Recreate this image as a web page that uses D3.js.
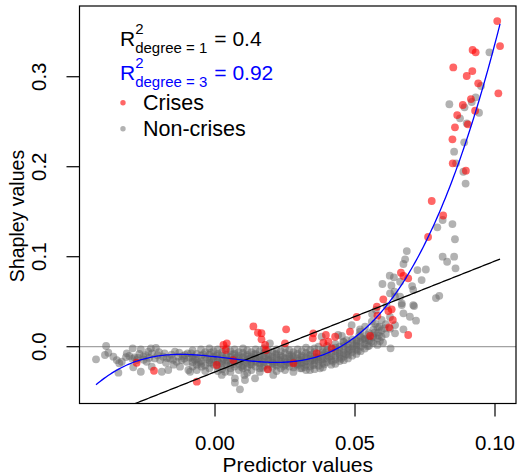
<!DOCTYPE html>
<html><head><meta charset="utf-8">
<script src="https://cdn.jsdelivr.net/npm/d3@7"></script>
<style>
body{margin:0;background:#fff}
svg{display:block}
text{font-family:"Liberation Sans",Arial,Helvetica,sans-serif}
</style>
</head><body>
<svg id="chart" width="518" height="474"></svg>
<script>
// Observations: [predictor value, Shapley value]
const nonCrises = [
 [-0.0425,-0.014],[-0.0389,0.0008],[-0.0393,-0.0092],[-0.0381,-0.0067],[-0.0363,-0.0111],[-0.0351,-0.0148],[-0.0342,-0.0184],[-0.0345,-0.0289],
 [-0.0333,-0.0167],[-0.0315,-0.0073],[-0.0318,-0.0115],[-0.0306,-0.0103],[-0.0295,-0.0135],[-0.0294,-0.0018],[-0.0292,-0.0229],[-0.0288,-0.0118],
 [-0.028,-0.0148],[-0.0275,-0.0125],[-0.027,-0.0081],[-0.0265,-0.0029],[-0.0265,-0.0278],[-0.0256,-0.0111],[-0.0255,-0.0145],[-0.0248,-0.0095],
 [-0.0244,-0.0167],[-0.0238,-0.0056],[-0.0235,-0.0125],[-0.0229,-0.0018],[-0.0226,-0.0222],[-0.0225,-0.0075],[-0.0215,-0.013],[-0.0211,-0.0012],
 [-0.0205,-0.0095],[-0.02,-0.006],[-0.0196,-0.0148],[-0.019,-0.0278],[-0.0185,-0.0111],[-0.018,-0.0075],[-0.0175,-0.0178],[-0.0172,-0.0125],
 [-0.0167,-0.0259],[-0.0161,-0.013],[-0.0155,-0.0088],[-0.015,-0.0145],[-0.0148,-0.02],[-0.0143,-0.0056],[-0.0137,-0.0167],[-0.0131,-0.0111],
 [-0.0128,-0.0065],[-0.0125,-0.0222],[-0.0119,-0.0148],[-0.0115,-0.0105],[-0.011,-0.013],[-0.0107,-0.0092],[-0.0101,-0.0167],[-0.0098,-0.0075],
 [-0.0095,-0.0259],[-0.0092,-0.012],
 [-0.008,-0.004],[-0.008,-0.011],[-0.008,-0.017],[-0.008,-0.022],
 [-0.0065,-0.008],[-0.0065,-0.014],[-0.0065,-0.02],[-0.0065,-0.026],
 [-0.005,-0.003],[-0.005,-0.01],[-0.005,-0.016],[-0.005,-0.019],
 [-0.0035,-0.006],[-0.0035,-0.012],[-0.0035,-0.021],[-0.0035,-0.027],
 [-0.002,-0.002],[-0.002,-0.009],[-0.002,-0.015],[-0.002,-0.018],[-0.002,-0.024],
 [-0.0005,-0.005],[-0.0005,-0.011],[-0.0005,-0.014],[-0.0005,-0.02],
 [0.001,-0.003],[0.001,-0.008],[0.001,-0.013],[0.001,-0.017],[0.001,-0.022],[0.001,-0.027],
 [0.0025,-0.006],[0.0025,-0.01],[0.0025,-0.016],[0.0025,-0.019],[0.0025,-0.025],
 [0.004,-0.002],[0.004,-0.009],[0.004,-0.012],[0.004,-0.018],[0.004,-0.021],
 [0.0055,-0.005],[0.0055,-0.011],[0.0055,-0.015],[0.0055,-0.02],[0.0055,-0.024],[0.0055,-0.028],
 [0.007,-0.003],[0.007,-0.008],[0.007,-0.013],[0.007,-0.017],[0.007,-0.022],
 [0.0085,-0.006],[0.0085,-0.01],[0.0085,-0.014],[0.0085,-0.019],[0.0085,-0.026],
 [0.01,-0.002],[0.01,-0.007],[0.01,-0.012],[0.01,-0.016],[0.01,-0.021],[0.01,-0.024],
 [0.0115,-0.004],[0.0115,-0.009],[0.0115,-0.015],[0.0115,-0.018],[0.0115,-0.023],[0.0115,-0.029],
 [0.013,-0.006],[0.013,-0.011],[0.013,-0.013],[0.013,-0.017],[0.013,-0.02],[0.013,-0.026],
 [0.0145,-0.003],[0.0145,-0.008],[0.0145,-0.012],[0.0145,-0.016],[0.0145,-0.022],
 [0.016,-0.005],[0.016,-0.01],[0.016,-0.014],[0.016,-0.019],[0.016,-0.024],[0.016,-0.028],
 [0.0175,-0.002],[0.0175,-0.007],[0.0175,-0.012],[0.0175,-0.017],[0.0175,-0.021],
 [0.019,-0.004],[0.019,-0.009],[0.019,-0.013],[0.019,-0.015],[0.019,-0.02],[0.019,-0.025],
 [0.0205,-0.006],[0.0205,-0.011],[0.0205,-0.016],[0.0205,-0.018],[0.0205,-0.023],
 [0.022,-0.003],[0.022,-0.008],[0.022,-0.012],[0.022,-0.017],[0.022,-0.021],[0.022,-0.027],
 [0.0235,-0.005],[0.0235,-0.01],[0.0235,-0.014],[0.0235,-0.019],[0.0235,-0.024],
 [0.025,-0.002],[0.025,-0.007],[0.025,-0.013],[0.025,-0.016],[0.025,-0.02],[0.025,-0.026],
 [0.0265,-0.004],[0.0265,-0.009],[0.0265,-0.012],[0.0265,-0.018],[0.0265,-0.022],
 [0.028,-0.006],[0.028,-0.011],[0.028,-0.015],[0.028,-0.017],[0.028,-0.023],[0.028,-0.028],
 [0.0295,-0.003],[0.0295,-0.008],[0.0295,-0.013],[0.0295,-0.019],[0.0295,-0.021],
 [0.031,-0.005],[0.031,-0.01],[0.031,-0.014],[0.031,-0.018],[0.031,-0.024],
 [0.0325,-0.001],[0.0325,-0.007],[0.0325,-0.012],[0.0325,-0.016],[0.0325,-0.02],[0.0325,-0.026],
 [0.034,-0.004],[0.034,-0.009],[0.034,-0.013],[0.034,-0.017],[0.034,-0.022],
 [0.0355,-0.002],[0.0355,-0.006],[0.0355,-0.011],[0.0355,-0.015],[0.0355,-0.019],[0.0355,-0.025],
 [0.037,0.0],[0.037,-0.008],[0.037,-0.012],[0.037,-0.016],[0.037,-0.021],
 [0.0385,-0.003],[0.0385,-0.006],[0.0385,-0.01],[0.0385,-0.014],[0.0385,-0.018],[0.0385,-0.023],
 [0.04,0.001],[0.04,-0.004],[0.04,-0.009],[0.04,-0.013],[0.04,-0.017],
 [0.0415,-0.002],[0.0415,-0.007],[0.0415,-0.011],[0.0415,-0.015],[0.0415,-0.02],
 [0.043,0.003],[0.043,-0.001],[0.043,-0.005],[0.043,-0.01],[0.043,-0.014],[0.043,-0.019],
 [0.0445,0.0],[0.0445,-0.004],[0.0445,-0.008],[0.0445,-0.012],[0.0445,-0.016],
 [0.046,0.005],[0.046,0.001],[0.046,-0.003],[0.046,-0.007],[0.046,-0.011],[0.046,-0.015],
 [0.0475,0.003],[0.0475,-0.001],[0.0475,-0.005],[0.0475,-0.009],[0.0475,-0.013],
 [0.049,0.008],[0.049,0.003],[0.049,-0.002],[0.049,-0.006],[0.049,-0.01],
 [0.0505,0.006],[0.0505,0.001],[0.0505,-0.003],[0.0505,-0.008],
 [0.052,0.011],[0.052,0.005],[0.052,0.0],[0.052,-0.005],
 [0.0535,0.009],[0.0535,0.003],[0.0535,-0.002],
 [0.055,0.015],[0.055,0.007],[0.055,0.001],
 [0.0565,0.019],[0.0565,0.012],[0.0565,0.004],
 [0.058,0.022],[0.058,0.009],[0.058,0.002],
 [0.0595,0.018],[0.0595,0.011],[0.061,0.025],[0.061,0.014],[0.0625,0.02],[0.0625,0.033],
 [0.0005,-0.0105],[0.0015,-0.0185],[0.003,-0.0135],[0.0045,-0.0155],[0.006,-0.0085],[0.0065,-0.0195],[0.0078,-0.0115],
 [0.009,-0.0165],[0.0095,-0.0225],[0.0108,-0.0105],[0.012,-0.0135],[0.0125,-0.0195],[0.0138,-0.0085],[0.015,-0.0175],
 [0.0155,-0.0125],[0.0168,-0.0155],[0.017,-0.0235],[0.0182,-0.0105],[0.0198,-0.0145],[0.0212,-0.0195],[0.0215,-0.0085],
 [0.0228,-0.0155],[0.0242,-0.0115],[0.0245,-0.0215],[0.0258,-0.0175],[0.027,-0.0135],[0.0275,-0.0095],[0.0288,-0.0195],
 [0.03,-0.0155],[0.0305,-0.0115],[0.0318,-0.0175],[0.032,-0.0225],[0.0332,-0.0095],[0.0348,-0.0145],[0.0352,-0.0205],
 [0.0362,-0.0125],[0.0378,-0.0145],[0.039,-0.0195],[0.0395,-0.0065],[0.0408,-0.0115],[0.042,-0.0165],[0.0438,-0.0065],
 [0.045,-0.0135],[0.0468,-0.0085],[0.048,-0.0035],[0.0495,0.0005],[0.051,-0.0045],[0.0515,0.0125],[0.0528,0.0085],
 [0.0542,0.0135],[0.0545,0.0005],[0.0558,0.0055],[0.057,0.0155],[0.0572,0.0255],[0.0585,0.0125],[0.06,0.0045],
 [0.0605,0.0205],[-0.0072,-0.0145],[-0.0058,-0.0175],[-0.0042,-0.0085],[-0.0028,-0.0135],[-0.0012,-0.0175],
 [-0.0015,-0.0065],[-0.0085,-0.0075],[-0.0078,-0.0135],
 [0.0071,-0.0351],[0.0071,-0.04],[0.0089,-0.0473],[0.0107,-0.037],[0.0105,-0.0314],[0.0143,-0.0351],
 [0.0024,-0.0314],[-0.0089,-0.0278],[-0.0048,-0.0222],[0.0036,-0.0278],[0.0196,0.0038],[0.0208,-0.0314],
 [0.0304,-0.024],[0.0375,-0.024],[0.0339,-0.0259],
 [0.0381,0.0111],[0.044,0.013],[0.0458,0.0056],[0.0488,0.0241],[0.0518,0.0167],[0.0536,0.0222],[0.056,0.0278],
 [0.0548,0.0093],[0.0506,0.0074],[0.0518,0.0193],[0.0453,0.0119],[0.047,0.0074],[0.0536,0.0074],[0.0506,0.0038],
 [0.0627,-0.0018],[0.0565,0.0104],[0.0589,0.0063],[0.0583,0.0156],[0.0587,0.0222],[0.0595,0.0297],[0.0643,0.0241],
 [0.0673,0.0193],[0.0643,0.0149],[0.0718,0.0289],[0.0696,0.0333],[0.0673,0.0371],[0.0561,0.0363],[0.0575,0.0408],
 [0.0613,0.0452],[0.0711,0.0452],[0.0667,0.0463],[0.0667,0.0482],[0.0708,0.0463],[0.0643,0.0556],[0.0661,0.0556],
 [0.0641,0.0611],[0.0625,0.0593],[0.063,0.068],[0.0598,0.0697],[0.0661,0.0722],[0.0639,0.0771],[0.0624,0.0789],
 [0.0708,0.063],[0.0704,0.0674],[0.0789,0.0541],[0.0801,0.0566],[0.0738,0.0741],[0.0723,0.0852],[0.0753,0.0858],
 [0.0673,0.0919],[0.0679,0.0971],[0.0685,0.1063],[0.0813,0.1],[0.0829,0.0944],[0.0854,0.1],[0.0859,0.0871],
 [0.0857,0.1194],[0.0794,0.1327],[0.0813,0.1408],[0.0848,0.1363],[0.0895,0.1813],[0.0887,0.1944],[0.0861,0.2038],
 [0.0854,0.2167],[0.089,0.2271],[0.0899,0.2482],[0.0875,0.2538],[0.0943,0.26],[0.0891,0.266],[0.0837,0.2694],
 [0.0917,0.2719],[0.0931,0.2771],[0.095,0.2897],[0.098,0.3271]
];
const crises = [
 [-0.028,-0.0178],[-0.0218,-0.0267],[-0.0065,-0.0389],[0.0006,-0.0203],[0.003,0.0019],[0.0042,0.0038],[0.0038,-0.0037],
 [0.0065,-0.0148],[0.0137,0.0225],[0.0153,0.0155],[0.0166,0.015],[0.0166,0.0082],[0.0179,0.0019],[0.0182,-0.0037],
 [0.0188,-0.0251],[0.025,0.0038],[0.0254,0.0193],[0.028,-0.0184],[0.0349,0.0093],[0.0351,0.0149],[0.0363,-0.0073],
 [0.0387,0.0044],[0.0396,0.013],[0.0405,0.0056],[0.0417,-0.0018],[0.0429,0.0111],[0.0482,0.0167],[0.0506,0.033],
 [0.0554,0.0119],[0.0578,0.0444],[0.058,0.0345],[0.0601,0.0527],[0.0619,0.0397],[0.0631,0.0416],[0.0635,0.0297],
 [0.0622,0.0216],[0.0664,0.0822],[0.0673,0.0786],[0.069,0.076],[0.069,0.013],[0.0761,0.1219],[0.0774,0.1619],
 [0.0815,0.1458],[0.0849,0.2038],[0.0896,0.1956],[0.0848,0.2304],[0.0857,0.2438],[0.0903,0.2471],[0.0865,0.2574],
 [0.0929,0.2622],[0.0885,0.2686],[0.0914,0.2752],[0.1012,0.2816],[0.094,0.2927],[0.0899,0.3008],[0.0919,0.3063],
 [0.0851,0.3104],[0.0931,0.3271],[0.092,0.3297],[0.1018,0.3341],[0.1008,0.3619]
];

// Fitted models (coefficients in increasing powers of x)
const linearFit = [-0.0280, 1.232];
const cubicFit = [-0.011109, -0.35955, -6.588, 449.97];
const fitDegrees = ["1", "3"];
const fitR2 = ["0.4", "0.92"];
const fitColors = ["black", "blue"];

const xTicks = [0, 0.05, 0.10];
const xTickLabels = ["0.00", "0.05", "0.10"];
const yTicks = [0, 0.1, 0.2, 0.3];
const yTickLabels = ["0.0", "0.1", "0.2", "0.3"];
const legendLabels = ["Crises", "Non-crises"];

const xLimits = [-0.0484, 0.1075];
const yLimits = [-0.0631, 0.3786];

const svg = d3.select("#chart");
const box = {left: 79.5, right: 516, top: 6, bottom: 403.5};
const x = d3.scaleLinear().domain(xLimits).range([box.left, box.right]);
const y = d3.scaleLinear().domain(yLimits).range([box.bottom, box.top]);

const gray = "rgba(102,102,102,0.5)";
const red = "rgba(255,0,0,0.6)";

svg.append("clipPath").attr("id", "plotClip")
  .append("rect").attr("x", box.left).attr("y", box.top)
  .attr("width", box.right - box.left).attr("height", box.bottom - box.top);

// zero reference line
svg.append("line")
  .attr("x1", box.left).attr("x2", box.right)
  .attr("y1", y(0)).attr("y2", y(0))
  .attr("stroke", "#8c8c8c").attr("stroke-width", 1);

const pts = svg.append("g").attr("clip-path", "url(#plotClip)");
pts.selectAll("circle.nc").data(nonCrises).join("circle").attr("class", "nc")
  .attr("cx", d => x(d[0])).attr("cy", d => y(d[1])).attr("r", 3.9).attr("fill", gray);
pts.selectAll("circle.cr").data(crises).join("circle").attr("class", "cr")
  .attr("cx", d => x(d[0])).attr("cy", d => y(d[1])).attr("r", 3.9).attr("fill", red);

// fitted lines over the observed predictor range
const allX = nonCrises.concat(crises).map(d => d[0]);
const [xmin, xmax] = d3.extent(allX);
const poly = c => v => c.reduce((s, a, i) => s + a * Math.pow(v, i), 0);
const grid = d3.range(0, 201).map(i => xmin + (xmax - xmin) * i / 200);
const lineGen = d3.line().x(d => x(d[0])).y(d => y(d[1]));
const lines = svg.append("g").attr("clip-path", "url(#plotClip)").attr("fill", "none");
lines.append("path").attr("d", lineGen(grid.map(v => [v, poly(linearFit)(v)])))
  .attr("stroke", fitColors[0]).attr("stroke-width", 1.3);
lines.append("path").attr("d", lineGen(grid.map(v => [v, poly(cubicFit)(v)])))
  .attr("stroke", fitColors[1]).attr("stroke-width", 1.3);

// frame
svg.append("rect").attr("x", box.left).attr("y", box.top)
  .attr("width", box.right - box.left).attr("height", box.bottom - box.top)
  .attr("fill", "none").attr("stroke", "black").attr("stroke-width", 1.2);

// axes
const tickLen = 13;
const xAxis = svg.append("g");
xAxis.selectAll("line").data(xTicks).join("line")
  .attr("x1", d => x(d)).attr("x2", d => x(d))
  .attr("y1", box.bottom).attr("y2", box.bottom + tickLen).attr("stroke", "black").attr("stroke-width", 1.2);
xAxis.selectAll("text").data(xTicks).join("text")
  .attr("x", d => x(d)).attr("y", 450).attr("text-anchor", "middle")
  .attr("font-size", 20.5).text((d, i) => xTickLabels[i]);

const yAxis = svg.append("g");
yAxis.selectAll("line").data(yTicks).join("line")
  .attr("y1", d => y(d)).attr("y2", d => y(d))
  .attr("x1", box.left - tickLen).attr("x2", box.left).attr("stroke", "black").attr("stroke-width", 1.2);
yAxis.selectAll("text").data(yTicks).join("text")
  .attr("transform", d => `translate(46,${y(d)}) rotate(-90)`)
  .attr("text-anchor", "middle").attr("font-size", 20.5).text((d, i) => yTickLabels[i]);

svg.append("text").attr("x", (box.left + box.right) / 2).attr("y", 472)
  .attr("text-anchor", "middle").attr("font-size", 21).text("Predictor values");
svg.append("text").attr("transform", `translate(24,216) rotate(-90)`)
  .attr("text-anchor", "middle").attr("font-size", 19.5).text("Shapley values");

// R² annotations
const base = [46, 80];
fitDegrees.forEach((deg, i) => {
  const g = svg.append("g").attr("fill", fitColors[i]);
  const R = g.append("text").attr("x", 120).attr("y", base[i]).attr("font-size", 21).text("R");
  const rw = R.node().getComputedTextLength();
  g.append("text").attr("x", 120 + rw).attr("y", base[i] - 12.5).attr("font-size", 15).text("2");
  const sub = g.append("text").attr("x", 120 + rw).attr("y", base[i] + 6.5).attr("font-size", 15)
    .text(`degree = ${deg}`);
  const sw = sub.node().getComputedTextLength();
  g.append("text").attr("x", 120 + rw + sw + 7).attr("y", base[i]).attr("font-size", 21)
    .text(`= ${fitR2[i]}`);
});

// legend
const legendColors = [red, gray];
const legendY = [102.7, 128.7];
legendLabels.forEach((lab, i) => {
  svg.append("circle").attr("cx", 123).attr("cy", legendY[i]).attr("r", 2.7).attr("fill", legendColors[i]);
  svg.append("text").attr("x", 143).attr("y", legendY[i] + 7.5).attr("font-size", 21.5).text(lab);
});
</script>
</body></html>
